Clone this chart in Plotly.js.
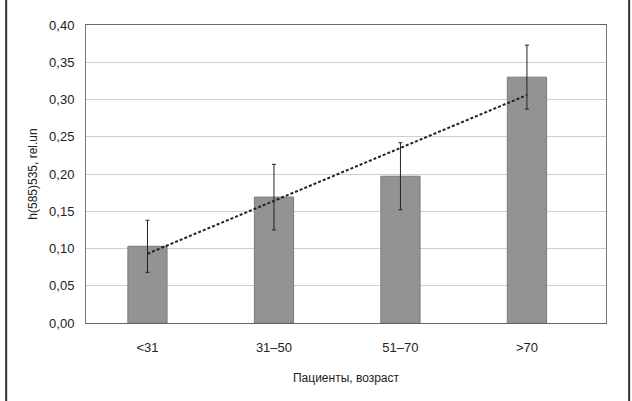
<!DOCTYPE html>
<html>
<head>
<meta charset="utf-8">
<script src="https://cdn.plot.ly/plotly-3.0.1.min.js"></script>
<style>html,body{margin:0;padding:0;background:#fff;}#chart{width:632px;height:401px;}</style>
</head>
<body>
<div id="chart"></div>
<script>
const categories = ["<31", "31–50", "51–70", ">70"];
const values = [0.103, 0.169, 0.197, 0.330];
const errors = [0.035, 0.044, 0.045, 0.043];
const trendValues = [0.093, 0.164, 0.235, 0.306];
const yTicks = [0, 0.05, 0.10, 0.15, 0.20, 0.25, 0.30, 0.35, 0.40];
const yTickLabels = ["0,00", "0,05", "0,10", "0,15", "0,20", "0,25", "0,30", "0,35", "0,40"];

const idx = categories.map((_, i) => i);

const bars = {
  type: "bar",
  x: idx,
  y: values,
  width: 0.31,
  marker: {color: "#939393", line: {color: "#7a7a7a", width: 1}},
  error_y: {type: "data", array: errors, visible: true, color: "#222", thickness: 1, width: 2},
  hoverinfo: "skip"
};
const trend = {
  type: "scatter",
  mode: "lines",
  x: idx,
  y: trendValues,
  line: {color: "#222", width: 2, dash: "3px,2px"},
  hoverinfo: "skip"
};

const layout = {
  width: 632, height: 401,
  margin: {l: 86, r: 26, t: 25, b: 78},
  paper_bgcolor: "#fff", plot_bgcolor: "#fff",
  showlegend: false,
  font: {family: "Liberation Sans, Arial, sans-serif", color: "#222", size: 13},
  xaxis: {
    range: [-0.486, 3.625],
    tickmode: "array", tickvals: idx, ticktext: categories,
    showgrid: false, zeroline: false,
    showline: true, linecolor: "#666", linewidth: 1, mirror: true,
    ticks: "", tickfont: {size: 13}, ticklabelstandoff: 12,
    title: {text: "Пациенты, возраст", font: {size: 12}, standoff: 20}
  },
  yaxis: {
    range: [0, 0.40],
    tickmode: "array", tickvals: yTicks, ticktext: yTickLabels,
    showgrid: true, gridcolor: "#cfcfcf", gridwidth: 1,
    zeroline: false,
    showline: true, linecolor: "#777", linewidth: 1, mirror: true,
    ticks: "", ticklen: 0, tickfont: {size: 13}, ticklabelstandoff: 8,
    title: {text: "h(585)535, rel.un", font: {size: 12}, standoff: 8}
  },
  shapes: [
    {type: "line", xref: "paper", yref: "paper", x0: -0.1535, x1: -0.1535, y0: -0.3, y1: 1.2, line: {color: "#333", width: 2}},
    {type: "line", xref: "paper", yref: "paper", x0: 1.0445, x1: 1.0445, y0: -0.3, y1: 1.2, line: {color: "#333", width: 2}}
  ]
};

Plotly.newPlot("chart", [bars, trend], layout, {displayModeBar: false, staticPlot: true});
</script>
</body>
</html>
